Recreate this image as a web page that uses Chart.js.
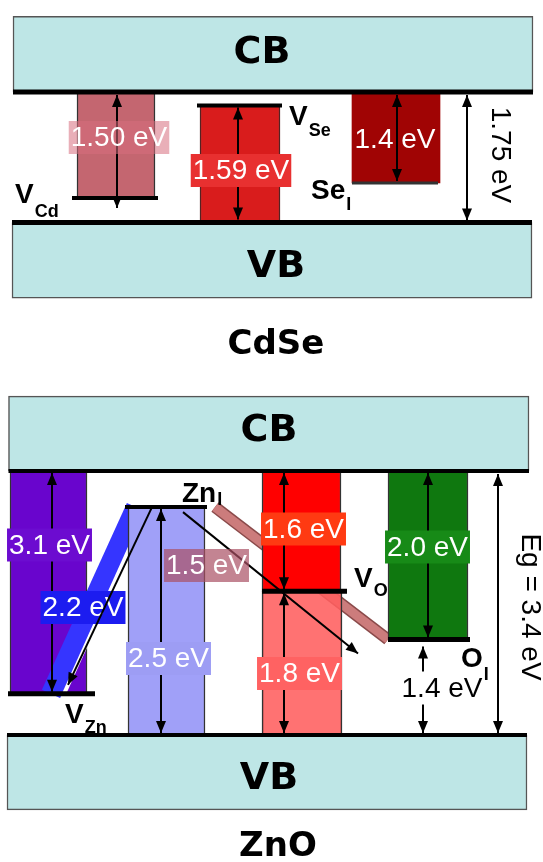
<!DOCTYPE html>
<html lang="en">
<head>
<meta charset="UTF-8">
<title>CdSe / ZnO defect levels</title>
<script src="https://cdn.jsdelivr.net/npm/chart.js"></script>
<style>
    body { margin: 0; background: #fff; }
    .panel { position: absolute; left: 0; width: 543px; }
    #top { top: 0; height: 365px; }
    #bottom { top: 365px; height: 497px; }
</style>
</head>
<body>
<div class="panel" id="top"><canvas id="cdseChart" width="543" height="365"></canvas></div>
<div class="panel" id="bottom"><canvas id="znoChart" width="543" height="497"></canvas></div>
<script>
// ---------- data (energies in eV above the valence band edge, as drawn) ----------
const cdseGap = 1.75;
const cdseDefects = ['VCd', 'VSe', 'Sei'];
const cdseLevels = [0.33, 1.57, 0.53];
const cdseBarTo = ['CB', 'VB', 'CB'];
const cdseLabels = ['1.50 eV', '1.59 eV', '1.4 eV'];

const znoGap = 3.4;
const znoDefects = ['VZn', 'Zni', 'VO', 'Oi'];
const znoLevels = [0.53, 2.935, 1.85, 1.23];
const znoBarFrom = ['VZn', 'VB', 'VO', 'VB', 'Oi'];
const znoBarTo = ['CB', 'Zni', 'CB', 'VO', 'CB'];
const znoBarLabels = ['3.1 eV', '2.5 eV', '1.6 eV', '1.8 eV', '2.0 eV'];
const znoSlantFrom = ['Zni', 'Zni'];
const znoSlantTo = ['VZn', 'Oi'];
const znoSlantLabels = ['2.2 eV', '1.5 eV'];
const znoOiLabel = '1.4 eV';

// ---------- layout / style ----------
const F = '"Liberation Sans", Arial, sans-serif';
const FB = '"DejaVu Sans", Verdana, sans-serif';
const BAND_FILL = '#bee6e6';

const CDSE = {
    height: 365, vbPx: 222.5, cbPx: 92, depth: 1.015,
    cb: [13, 533], vb: [12, 532],
    barX: [[77, 155], [200, 280], [352, 440]],
    lineX: [[72, 158], [197, 282], [352, 438]],
    lineW: [4, 4, 3],
    lineC: ['#000', '#000', '#333'],
    colors: ['#c46670', '#d91c1c', '#a00404'],
    borders: ['#333', '#522', null],
    arrowX: [117, 238, 397], arrowTail: [10, 0, 0], egX: 467,
    tags: [[119, 137.5, 'rgba(215,110,125,0.55)'], [241, 170.5, '#e83030'], [395, 139, null]]
};

const ZNO = {
    height: 497, vbPx: 370, cbPx: 106, depth: 0.965,
    cb: [8.5, 529], vb: [7, 527],
    barX: [[10, 87], [128, 205], [262, 341], [262, 342], [388, 468]],
    colors: ['#6905cd', '#a0a0f8', '#ff0000', 'rgba(255,95,95,0.88)', '#0f780f'],
    arrowX: [52, 161, 284, 284, 428],
    tags: [[49.5, 180, '#6c0cd0'], [168.5, 293.5, '#9d9df4'], [303.5, 164, '#ff3a12'],
           [299.5, 308.5, '#ff6262'], [427.5, 182, '#178a17']],
    lineX: [[8, 95], [125, 207], [262, 347], [388, 470]],
    slantX: [[136, 51], [215, 388]],
    slantArrow: [[152, 0, 68, -9], [183, 5, 358, 14]],
    slantTags: [[83, 242.5, '#1c1cf0'], [206.5, 200.5, 'rgba(170,80,100,0.7)']],
    oiArrowX: 423, oiTag: [442, 323], egX: 498
};

function levelOf(name, defects, levels, gap) {
    if (name === 'CB') return gap;
    if (name === 'VB') return 0;
    return levels[defects.indexOf(name)];
}

function yRange(L, gap) {
    const k = (L.vbPx - L.cbPx) / gap;
    return { min: (L.vbPx - L.height) / k, max: L.vbPx / k };
}

function barSet(x0, x1, lo, hi, color, border) {
    return {
        type: 'bar', data: [{ x: (x0 + x1) / 2, y: [lo, hi] }],
        barThickness: x1 - x0, grouped: false, borderSkipped: false,
        backgroundColor: color, borderColor: border || 'rgba(0,0,0,0)', borderWidth: border ? 1.5 : 0
    };
}

function lineSet(x0, e0, x1, e1, color, width) {
    return {
        type: 'line', data: [{ x: x0, y: e0 }, { x: x1, y: e1 }],
        borderColor: color, borderWidth: width, pointRadius: 0, fill: false,
        tension: 0, borderCapStyle: 'butt'
    };
}

// first in list is drawn first (underneath)
function ordered(list) {
    list.forEach((d, i) => { d.order = list.length - i; });
    return list;
}

// ---------- drawing helpers ----------
function head(ctx, x, y, a) {
    const L = 12, W = 5;
    ctx.beginPath();
    ctx.moveTo(x, y);
    ctx.lineTo(x - L * Math.cos(a) + W * Math.sin(a), y - L * Math.sin(a) - W * Math.cos(a));
    ctx.lineTo(x - L * Math.cos(a) - W * Math.sin(a), y - L * Math.sin(a) + W * Math.cos(a));
    ctx.closePath();
    ctx.fill();
}

function arrow(ctx, x0, y0, x1, y1, h0, h1) {
    ctx.save();
    ctx.strokeStyle = '#000';
    ctx.fillStyle = '#000';
    ctx.lineWidth = 2;
    ctx.beginPath();
    ctx.moveTo(x0, y0);
    ctx.lineTo(x1, y1);
    ctx.stroke();
    const a = Math.atan2(y1 - y0, x1 - x0);
    if (h1) head(ctx, x1, y1, a);
    if (h0) head(ctx, x0, y0, a + Math.PI);
    ctx.restore();
}

// vertical arrow between two energies, tips kept just off the lines
function vArrow(ctx, x, ya, yb, tailA, tailB) {
    const s = yb > ya ? 1 : -1;
    arrow(ctx, x, ya + s * (tailA || 3), x, yb - s * (tailB || 3), true, true);
}

function tag(ctx, text, cx, cy, bg, color) {
    ctx.save();
    ctx.font = '28px ' + F;
    const w = ctx.measureText(text).width + 4, h = 33;
    if (bg) {
        ctx.fillStyle = bg;
        ctx.fillRect(cx - w / 2, cy - h / 2, w, h);
    }
    ctx.fillStyle = color || '#fff';
    ctx.textAlign = 'center';
    ctx.textBaseline = 'middle';
    ctx.fillText(text, cx, cy + 1);
    ctx.restore();
}

function boldText(ctx, text, cx, base, size) {
    ctx.save();
    ctx.font = 'bold ' + size + 'px ' + FB;
    ctx.fillStyle = '#000';
    ctx.textAlign = 'center';
    ctx.textBaseline = 'alphabetic';
    ctx.fillText(text, cx, base);
    ctx.restore();
}

function species(ctx, main, sub, x, base, subBase) {
    ctx.save();
    ctx.fillStyle = '#000';
    ctx.textAlign = 'left';
    ctx.textBaseline = 'alphabetic';
    ctx.font = 'bold 28px ' + F;
    ctx.fillText(main, x, base);
    const w = ctx.measureText(main).width;
    ctx.font = 'bold 18px ' + F;
    ctx.fillText(sub, x + w + 1, subBase);
    ctx.restore();
}

function vText(ctx, text, cx, cy) {
    ctx.save();
    ctx.translate(cx, cy);
    ctx.rotate(Math.PI / 2);
    ctx.font = '28px ' + F;
    ctx.fillStyle = '#000';
    ctx.textAlign = 'center';
    ctx.textBaseline = 'middle';
    ctx.fillText(text, 0, 0);
    ctx.restore();
}

function makeChart(id, datasets, range, extras) {
    return new Chart(document.getElementById(id), {
        type: 'bar',
        data: { datasets: datasets },
        options: {
            responsive: false,
            animation: false,
            devicePixelRatio: 1,
            events: [],
            layout: { padding: 0 },
            plugins: { legend: { display: false }, tooltip: { enabled: false }, title: { display: false } },
            scales: {
                x: { type: 'linear', min: 0, max: 543, offset: false, display: false, grid: { offset: false } },
                y: { type: 'linear', min: range.min, max: range.max, display: false }
            }
        },
        plugins: [{ id: 'bandDiagram', afterDatasetsDraw: chart => extras(chart) }]
    });
}

// ---------- CdSe ----------
const cdseSets = [
    barSet(CDSE.cb[0], CDSE.cb[1], cdseGap, cdseGap + CDSE.depth, BAND_FILL, '#555'),
    barSet(CDSE.vb[0], CDSE.vb[1], -CDSE.depth, 0, BAND_FILL, '#555')
];
cdseDefects.forEach((d, i) => {
    const end = levelOf(cdseBarTo[i], cdseDefects, cdseLevels, cdseGap);
    const lo = Math.min(end, cdseLevels[i]), hi = Math.max(end, cdseLevels[i]);
    cdseSets.push(barSet(CDSE.barX[i][0], CDSE.barX[i][1], lo, hi, CDSE.colors[i], CDSE.borders[i]));
});
cdseDefects.forEach((d, i) => {
    cdseSets.push(lineSet(CDSE.lineX[i][0], cdseLevels[i], CDSE.lineX[i][1], cdseLevels[i], CDSE.lineC[i], CDSE.lineW[i]));
});
cdseSets.push(lineSet(CDSE.cb[0], cdseGap, CDSE.cb[1], cdseGap, '#000', 5));
cdseSets.push(lineSet(CDSE.vb[0], 0, CDSE.vb[1], 0, '#000', 5));

makeChart('cdseChart', ordered(cdseSets), yRange(CDSE, cdseGap), chart => {
    const ctx = chart.ctx, x = chart.scales.x, y = chart.scales.y;
    cdseDefects.forEach((d, i) => {
        const end = levelOf(cdseBarTo[i], cdseDefects, cdseLevels, cdseGap);
        const ax = x.getPixelForValue(CDSE.arrowX[i]);
        vArrow(ctx, ax, y.getPixelForValue(end), y.getPixelForValue(cdseLevels[i]), 3, CDSE.arrowTail[i] ? -CDSE.arrowTail[i] : 2);
    });
    vArrow(ctx, x.getPixelForValue(CDSE.egX), y.getPixelForValue(cdseGap), y.getPixelForValue(0), 3, 2);
    cdseLabels.forEach((t, i) => tag(ctx, t, CDSE.tags[i][0], CDSE.tags[i][1], CDSE.tags[i][2]));
    vText(ctx, cdseGap.toFixed(2) + ' eV', 500, 155);
    boldText(ctx, 'CB', 262, 63, 38);
    boldText(ctx, 'VB', 276, 277, 38);
    boldText(ctx, 'CdSe', 276, 354, 34);
    species(ctx, 'V', 'Cd', 15, 203, 217);
    species(ctx, 'V', 'Se', 289, 125, 136);
    species(ctx, 'Se', 'I', 311, 199, 210);
});

// ---------- ZnO ----------
const zLevel = n => levelOf(n, znoDefects, znoLevels, znoGap);
const znoBar = i => {
    const a = zLevel(znoBarFrom[i]), b = zLevel(znoBarTo[i]);
    return barSet(ZNO.barX[i][0], ZNO.barX[i][1], Math.min(a, b), Math.max(a, b), ZNO.colors[i], '#333');
};
const znoSets = [
    barSet(ZNO.cb[0], ZNO.cb[1], znoGap, znoGap + ZNO.depth, BAND_FILL, '#555'),
    barSet(ZNO.vb[0], ZNO.vb[1], -ZNO.depth, 0, BAND_FILL, '#555'),
    znoBar(0),
    lineSet(ZNO.slantX[0][0], zLevel(znoSlantFrom[0]), ZNO.slantX[0][1], zLevel(znoSlantTo[0]), '#3535ff', 20),
    lineSet(ZNO.slantX[0][0] + 12, zLevel(znoSlantFrom[0]), ZNO.slantX[0][1] + 13, zLevel(znoSlantTo[0]), '#ffffff', 4),
    znoBar(1),
    lineSet(ZNO.slantX[1][0], zLevel(znoSlantFrom[1]), ZNO.slantX[1][1], zLevel(znoSlantTo[1]), '#8a4a4a', 12),
    lineSet(ZNO.slantX[1][0], zLevel(znoSlantFrom[1]), ZNO.slantX[1][1], zLevel(znoSlantTo[1]), '#cc7c7c', 9),
    znoBar(2),
    znoBar(3),
    znoBar(4)
];
znoDefects.forEach((d, i) => {
    znoSets.push(lineSet(ZNO.lineX[i][0], znoLevels[i], ZNO.lineX[i][1], znoLevels[i], '#000', i === 1 ? 4 : 5));
});
znoSets.push(lineSet(ZNO.cb[0], znoGap, ZNO.cb[1], znoGap, '#000', 4));
znoSets.push(lineSet(ZNO.vb[0], 0, ZNO.vb[1], 0, '#000', 4));

makeChart('znoChart', ordered(znoSets), yRange(ZNO, znoGap), chart => {
    const ctx = chart.ctx, x = chart.scales.x, y = chart.scales.y;
    const py = n => y.getPixelForValue(zLevel(n));
    znoBarLabels.forEach((t, i) => {
        vArrow(ctx, x.getPixelForValue(ZNO.arrowX[i]), py(znoBarFrom[i]), py(znoBarTo[i]), 2, 2);
    });
    vArrow(ctx, x.getPixelForValue(ZNO.egX), py('CB'), py('VB'), 3, 2);
    vArrow(ctx, x.getPixelForValue(ZNO.oiArrowX), py('Oi'), py('VB'), 7, 2);
    znoBarLabels.forEach((t, i) => tag(ctx, t, ZNO.tags[i][0], ZNO.tags[i][1], ZNO.tags[i][2]));
    tag(ctx, znoOiLabel, ZNO.oiTag[0], ZNO.oiTag[1], '#fff', '#000');
    tag(ctx, znoSlantLabels[0], ZNO.slantTags[0][0], ZNO.slantTags[0][1], ZNO.slantTags[0][2]);
    znoSlantFrom.forEach((f, i) => {
        const s = ZNO.slantArrow[i];
        arrow(ctx, x.getPixelForValue(s[0]), py(f) + s[1], x.getPixelForValue(s[2]), py(znoSlantTo[i]) + s[3], false, true);
    });
    tag(ctx, znoSlantLabels[1], ZNO.slantTags[1][0], ZNO.slantTags[1][1], ZNO.slantTags[1][2]);
    vText(ctx, 'Eg = ' + znoGap.toFixed(1) + ' eV', 530, 242);
    boldText(ctx, 'CB', 269, 76, 38);
    boldText(ctx, 'VB', 269, 424, 38);
    boldText(ctx, 'ZnO', 278, 491, 34);
    species(ctx, 'Zn', 'I', 182, 137, 140);
    species(ctx, 'V', 'Zn', 65, 358, 368);
    species(ctx, 'V', 'O', 354, 222, 231);
    species(ctx, 'O', 'I', 461, 302, 315);
});
</script>
</body>
</html>
